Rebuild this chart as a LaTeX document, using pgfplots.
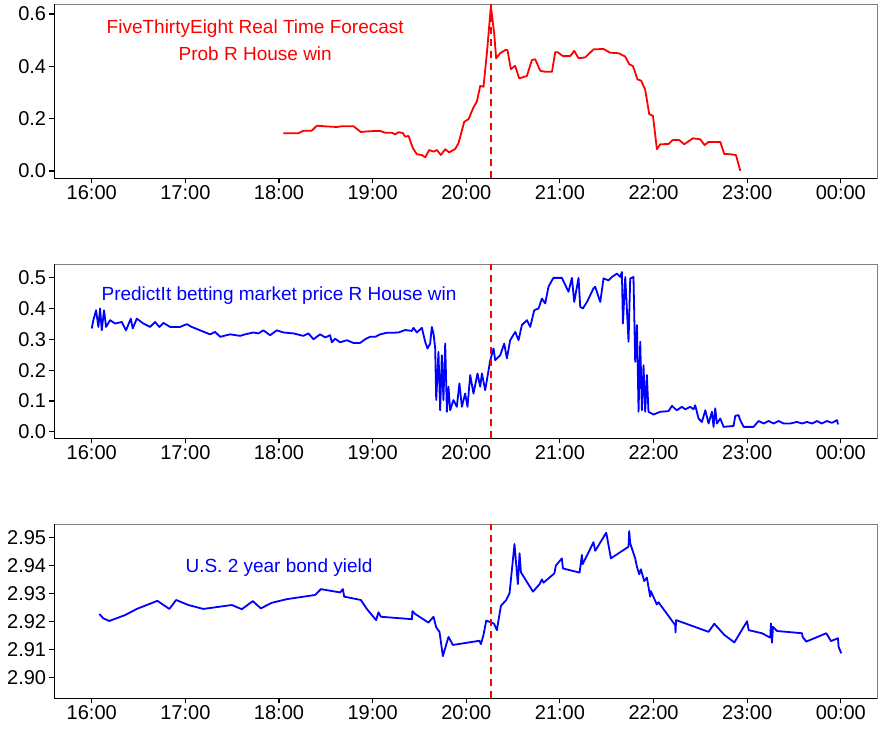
\documentclass[border=0pt]{standalone}
\usepackage{pgfplots}
\pgfplotsset{compat=1.18}
\usepackage{fontspec}
\setmainfont{Liberation Sans}
\pgfplotsset{
  panel/.style={
    scale only axis, width=823pt, height=174pt, anchor=south west,
    xmin=15.60, xmax=24.39,
    xtick={16,17,18,19,20,21,22,23,24},
    xticklabels={16:00,17:00,18:00,19:00,20:00,21:00,22:00,23:00,00:00},
    axis line style={draw=gray, line width=1.1pt},
    tick style={black, line width=1.1pt}, major tick length=5pt, tick align=outside,
    xtick pos=bottom, ytick pos=left,
    tick label style={font=\fontsize{20}{24}\selectfont, black},
    xticklabel style={inner sep=2pt},
    yticklabel style={inner sep=3pt},
    /pgf/number format/assume math mode=true,
    clip=false,
    every axis plot/.append style={line width=1.8pt, line join=round},
    after end axis/.code={\draw[black, line width=1.1pt] (rel axis cs:0,1) -- (rel axis cs:0,0) -- (rel axis cs:1,0);}
  },
  vline/.style={red, line width=1.6pt, dash pattern=on 7pt off 5pt}
}
\begin{document}
\begin{tikzpicture}
\path[use as bounding box] (0,0) rectangle (880pt,732pt);
% Panel 1
\begin{axis}[panel, at={(54.3pt,553.7pt)}, ymin=-0.028, ymax=0.637, ytick={0,0.2,0.4,0.6},
  yticklabel style={/pgf/number format/.cd, fixed, fixed zerofill, precision=1}]
\addplot[red] coordinates {(18.047,0.144)(18.207,0.144)(18.261,0.154)(18.350,0.154)(18.404,0.173)(18.475,0.171)(18.618,0.168)(18.671,0.171)(18.795,0.171)(18.874,0.149)(18.973,0.152)(19.080,0.153)(19.134,0.146)(19.205,0.146)(19.240,0.140)(19.276,0.148)(19.323,0.145)(19.347,0.131)(19.383,0.134)(19.430,0.087)(19.472,0.064)(19.526,0.061)(19.561,0.052)(19.604,0.080)(19.650,0.074)(19.686,0.080)(19.729,0.061)(19.775,0.083)(19.817,0.071)(19.881,0.084)(19.917,0.106)(19.978,0.188)(20.024,0.198)(20.077,0.243)(20.113,0.265)(20.149,0.325)(20.184,0.322)(20.220,0.450)(20.263,0.630)(20.298,0.526)(20.319,0.431)(20.362,0.450)(20.416,0.462)(20.440,0.462)(20.476,0.389)(20.522,0.402)(20.565,0.354)(20.647,0.363)(20.701,0.424)(20.736,0.427)(20.790,0.383)(20.843,0.379)(20.915,0.379)(20.950,0.454)(20.975,0.454)(21.032,0.439)(21.110,0.439)(21.153,0.459)(21.199,0.431)(21.270,0.434)(21.359,0.465)(21.466,0.466)(21.537,0.452)(21.626,0.450)(21.698,0.437)(21.740,0.408)(21.780,0.401)(21.829,0.350)(21.868,0.345)(21.911,0.310)(21.954,0.217)(21.994,0.211)(22.036,0.083)(22.072,0.102)(22.161,0.103)(22.203,0.118)(22.275,0.118)(22.328,0.102)(22.421,0.125)(22.499,0.121)(22.545,0.099)(22.588,0.111)(22.713,0.111)(22.755,0.065)(22.819,0.064)(22.880,0.061)(22.926,0.001)};
\addplot[vline] coordinates {(20.266,-0.028) (20.266,0.637)};
\node[red, anchor=base, font=\fontsize{19}{23}\selectfont] at (axis cs:17.746,0.526) {FiveThirtyEight Real Time Forecast};
\node[red, anchor=base, font=\fontsize{19}{23}\selectfont] at (axis cs:17.746,0.424) {Prob R House win};
\end{axis}
% Panel 2
\begin{axis}[panel, at={(54.3pt,293.7pt)}, ymin=-0.021, ymax=0.543, ytick={0,0.1,0.2,0.3,0.4,0.5},
  yticklabel style={/pgf/number format/.cd, fixed, fixed zerofill, precision=1}]
\addplot[blue] coordinates {(16.000,0.335)(16.017,0.362)(16.046,0.394)(16.071,0.340)(16.089,0.400)(16.107,0.329)(16.131,0.394)(16.153,0.340)(16.196,0.362)(16.249,0.351)(16.321,0.356)(16.366,0.329)(16.417,0.367)(16.438,0.335)(16.481,0.367)(16.551,0.351)(16.623,0.340)(16.676,0.356)(16.722,0.340)(16.765,0.353)(16.837,0.340)(16.943,0.340)(17.015,0.349)(17.068,0.340)(17.157,0.329)(17.264,0.316)(17.317,0.324)(17.371,0.308)(17.478,0.316)(17.585,0.311)(17.638,0.316)(17.727,0.322)(17.780,0.319)(17.833,0.329)(17.905,0.313)(17.976,0.329)(18.047,0.322)(18.154,0.319)(18.261,0.311)(18.314,0.319)(18.368,0.300)(18.439,0.316)(18.493,0.306)(18.546,0.313)(18.564,0.290)(18.599,0.302)(18.653,0.290)(18.724,0.297)(18.795,0.288)(18.866,0.288)(18.920,0.300)(18.973,0.308)(19.027,0.308)(19.080,0.316)(19.152,0.321)(19.205,0.321)(19.276,0.322)(19.347,0.330)(19.419,0.327)(19.436,0.337)(19.472,0.322)(19.526,0.337)(19.561,0.292)(19.586,0.270)(19.614,0.286)(19.632,0.340)(19.650,0.319)(19.668,0.270)(19.679,0.103)(19.703,0.259)(19.721,0.070)(19.739,0.248)(19.756,0.103)(19.775,0.286)(19.793,0.065)(19.810,0.146)(19.828,0.070)(19.863,0.103)(19.899,0.081)(19.927,0.157)(19.953,0.081)(19.988,0.124)(20.013,0.081)(20.042,0.184)(20.077,0.124)(20.120,0.189)(20.149,0.146)(20.167,0.189)(20.202,0.135)(20.256,0.232)(20.291,0.270)(20.309,0.232)(20.362,0.248)(20.405,0.286)(20.434,0.238)(20.469,0.297)(20.523,0.324)(20.558,0.297)(20.594,0.346)(20.648,0.362)(20.683,0.340)(20.726,0.394)(20.772,0.400)(20.808,0.432)(20.843,0.416)(20.878,0.470)(20.915,0.491)(20.932,0.499)(21.021,0.499)(21.092,0.454)(21.128,0.499)(21.153,0.421)(21.199,0.499)(21.217,0.405)(21.246,0.400)(21.289,0.421)(21.359,0.465)(21.377,0.470)(21.431,0.421)(21.466,0.497)(21.519,0.491)(21.556,0.502)(21.609,0.513)(21.644,0.502)(21.662,0.518)(21.673,0.351)(21.698,0.502)(21.733,0.292)(21.751,0.497)(21.786,0.502)(21.804,0.227)(21.823,0.346)(21.840,0.065)(21.858,0.292)(21.876,0.070)(21.893,0.216)(21.911,0.065)(21.929,0.184)(21.946,0.065)(22.000,0.056)(22.071,0.065)(22.160,0.067)(22.196,0.084)(22.249,0.070)(22.303,0.081)(22.338,0.073)(22.392,0.081)(22.427,0.073)(22.445,0.086)(22.481,0.043)(22.517,0.032)(22.553,0.070)(22.588,0.027)(22.624,0.065)(22.641,0.016)(22.659,0.076)(22.677,0.027)(22.713,0.043)(22.748,0.016)(22.855,0.019)(22.873,0.052)(22.908,0.054)(22.926,0.038)(22.962,0.016)(23.068,0.016)(23.122,0.035)(23.175,0.027)(23.229,0.035)(23.282,0.027)(23.336,0.035)(23.389,0.027)(23.460,0.027)(23.532,0.032)(23.586,0.027)(23.639,0.032)(23.693,0.027)(23.746,0.035)(23.795,0.027)(23.853,0.035)(23.906,0.029)(23.960,0.038)(23.970,0.024)};
\addplot[vline] coordinates {(20.266,-0.021) (20.266,0.543)};
\node[blue, anchor=base, font=\fontsize{19}{23}\selectfont] at (axis cs:18.0,0.4266) {PredictIt betting market price R House win};
\end{axis}
% Panel 3
\begin{axis}[panel, at={(54.3pt,33.7pt)}, ymin=2.8925, ymax=2.9548, ytick={2.90,2.91,2.92,2.93,2.94,2.95},
  yticklabel style={/pgf/number format/.cd, fixed, fixed zerofill, precision=2}]
\addplot[blue] coordinates {(16.081,2.9227)(16.124,2.9211)(16.188,2.9202)(16.356,2.9223)(16.481,2.9245)(16.701,2.9274)(16.829,2.9245)(16.901,2.9277)(17.032,2.9259)(17.192,2.9245)(17.496,2.9259)(17.603,2.9244)(17.720,2.9273)(17.806,2.9247)(17.923,2.9267)(18.083,2.9280)(18.386,2.9295)(18.447,2.9316)(18.653,2.9304)(18.682,2.9316)(18.696,2.9289)(18.874,2.9277)(18.938,2.9245)(19.037,2.9205)(19.062,2.9233)(19.088,2.9217)(19.393,2.9209)(19.419,2.9208)(19.425,2.9237)(19.454,2.9227)(19.596,2.9196)(19.650,2.9217)(19.679,2.9179)(19.714,2.9163)(19.750,2.9076)(19.810,2.9145)(19.857,2.9116)(20.141,2.9131)(20.156,2.9119)(20.184,2.9152)(20.213,2.9203)(20.274,2.9196)(20.298,2.9191)(20.327,2.9169)(20.370,2.9256)(20.427,2.9277)(20.462,2.9301)(20.515,2.9477)(20.551,2.9334)(20.569,2.9444)(20.584,2.9376)(20.712,2.9307)(20.782,2.9333)(20.808,2.9351)(20.825,2.9339)(20.940,2.9372)(20.957,2.9400)(21.021,2.9426)(21.032,2.9390)(21.210,2.9375)(21.235,2.9438)(21.242,2.9405)(21.359,2.9484)(21.377,2.9453)(21.495,2.9518)(21.545,2.9426)(21.733,2.9468)(21.740,2.9524)(21.751,2.9480)(21.804,2.9426)(21.823,2.9396)(21.847,2.9369)(21.865,2.9387)(21.900,2.9345)(21.929,2.9357)(21.964,2.9289)(21.971,2.9309)(22.035,2.9261)(22.053,2.9269)(22.231,2.9187)(22.235,2.9161)(22.241,2.9205)(22.588,2.9163)(22.649,2.9192)(22.756,2.9152)(22.863,2.9125)(22.999,2.9201)(23.016,2.9169)(23.158,2.9158)(23.247,2.9142)(23.254,2.9193)(23.265,2.9124)(23.276,2.9181)(23.318,2.9166)(23.586,2.9158)(23.592,2.9145)(23.631,2.9128)(23.845,2.9158)(23.895,2.9130)(23.970,2.9140)(23.976,2.9110)(24.005,2.9086)};
\addplot[vline] coordinates {(20.266,2.8925) (20.266,2.9548)};
\node[blue, anchor=base, font=\fontsize{19}{23}\selectfont] at (axis cs:18.0,2.9376) {U.S. 2 year bond yield};
\end{axis}
\end{tikzpicture}
\end{document}
